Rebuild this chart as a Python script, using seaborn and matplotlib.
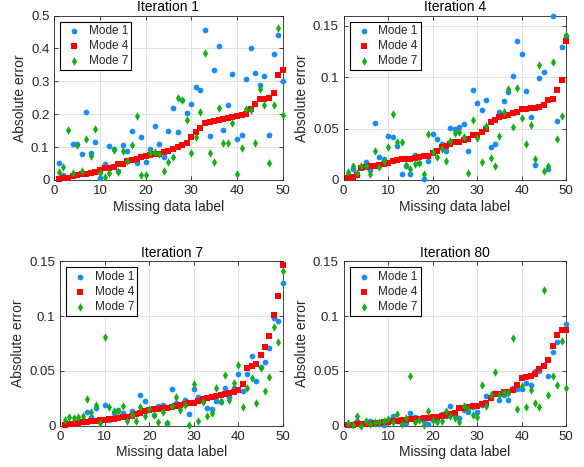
import numpy as np
import pandas as pd
import matplotlib
matplotlib.use("Agg")
import matplotlib.pyplot as plt
import seaborn as sns
from matplotlib.ticker import FuncFormatter

# -----------------------------
# Data
# -----------------------------
labels = list(range(1, 51))

it1_mode1 = [0.052, 0.015, 0.010, 0.108, 0.110, 0.078, 0.207, 0.081, 0.116, 0.007,
             0.050, 0.103, 0.094, 0.028, 0.105, 0.089, 0.148, 0.053, 0.132, 0.054,
             0.093, 0.163, 0.108, 0.071, 0.150, 0.220, 0.146, 0.243, 0.204, 0.232,
             0.283, 0.273, 0.457, 0.133, 0.334, 0.407, 0.151, 0.228, 0.321, 0.125,
             0.138, 0.308, 0.400, 0.325, 0.288, 0.316, 0.138, 0.383, 0.442, 0.300]
it1_mode4 = [0.003, 0.005, 0.006, 0.012, 0.015, 0.017, 0.018, 0.022, 0.025, 0.030,
             0.035, 0.037, 0.040, 0.048, 0.050, 0.058, 0.060, 0.065, 0.070, 0.073,
             0.076, 0.078, 0.080, 0.085, 0.088, 0.095, 0.100, 0.105, 0.113, 0.132,
             0.145, 0.157, 0.172, 0.177, 0.180, 0.183, 0.185, 0.188, 0.192, 0.195,
             0.198, 0.200, 0.215, 0.230, 0.245, 0.246, 0.250, 0.265, 0.318, 0.335]
it1_mode7 = [0.024, 0.040, 0.153, 0.021, 0.105, 0.027, 0.125, 0.073, 0.155, 0.021,
             0.009, 0.022, 0.090, 0.024, 0.089, 0.058, 0.105, 0.196, 0.016, 0.015,
             0.081, 0.084, 0.079, 0.027, 0.055, 0.071, 0.248, 0.244, 0.181, 0.081,
             0.132, 0.207, 0.386, 0.083, 0.056, 0.219, 0.111, 0.111, 0.173, 0.017,
             0.096, 0.217, 0.212, 0.111, 0.277, 0.229, 0.053, 0.229, 0.463, 0.198]

it4_mode1 = [0.005, 0.011, 0.005, 0.013, 0.0175, 0.010, 0.0557, 0.022, 0.0207, 0.0424,
             0.0418, 0.0334, 0.0058, 0.0136, 0.0058, 0.0246, 0.017, 0.0006, 0.0185, 0.0444,
             0.0399, 0.0353, 0.0282, 0.0509, 0.0492, 0.0512, 0.0548, 0.0282, 0.0872, 0.0748,
             0.068, 0.078, 0.0318, 0.0353, 0.0664, 0.0768, 0.0852, 0.1014, 0.135, 0.123,
             0.0868, 0.0612, 0.0143, 0.0988, 0.105, 0.0104, 0.160, 0.057, 0.129, 0.140]
it4_mode4 = [0.0023, 0.003, 0.005, 0.012, 0.013, 0.0135, 0.0135, 0.015, 0.016, 0.017,
             0.018, 0.019, 0.020, 0.020, 0.0205, 0.021, 0.022, 0.023, 0.0237, 0.026,
             0.028, 0.032, 0.0335, 0.035, 0.0366, 0.0366, 0.039, 0.040, 0.044, 0.044,
             0.047, 0.0496, 0.0567, 0.058, 0.061, 0.0625, 0.063, 0.065, 0.066, 0.0687,
             0.069, 0.0697, 0.0697, 0.0706, 0.0726, 0.0777, 0.079, 0.088, 0.097, 0.135]
it4_mode7 = [0.008, 0.014, 0.0065, 0.0133, 0.0133, 0.006, 0.028, 0.013, 0.018, 0.0324,
             0.0645, 0.0366, 0.0366, 0.015, 0.011, 0.016, 0.017, 0.0055, 0.0444, 0.027,
             0.022, 0.030, 0.0188, 0.0376, 0.0457, 0.047, 0.042, 0.0065, 0.0583, 0.0405,
             0.0175, 0.0528, 0.021, 0.0136, 0.043, 0.0664, 0.089, 0.0512, 0.0897, 0.0606,
             0.035, 0.0538, 0.0204, 0.112, 0.0084, 0.014, 0.1144, 0.0395, 0.0625, 0.141]

it7_mode1 = [0.001, 0.0025, 0.003, 0.0037, 0.0055, 0.0128, 0.0076, 0.016, 0.004, 0.019,
             0.0055, 0.0116, 0.0147, 0.012, 0.0067, 0.0137, 0.0104, 0.028, 0.0223, 0.0156,
             0.0098, 0.0183, 0.0186, 0.0024, 0.0339, 0.0208, 0.018, 0.0232, 0.0107, 0.0333,
             0.0263, 0.023, 0.0159, 0.0153, 0.023, 0.022, 0.034, 0.026, 0.034, 0.047,
             0.032, 0.047, 0.064, 0.041, 0.054, 0.058, 0.0705, 0.098, 0.096, 0.130]
it7_mode4 = [0.001, 0.0015, 0.002, 0.0025, 0.003, 0.0035, 0.004, 0.0045, 0.005, 0.0055,
             0.006, 0.0065, 0.007, 0.0075, 0.008, 0.009, 0.011, 0.012, 0.013, 0.014,
             0.015, 0.015, 0.016, 0.0165, 0.017, 0.018, 0.019, 0.020, 0.021, 0.021,
             0.023, 0.024, 0.025, 0.026, 0.027, 0.028, 0.029, 0.030, 0.031, 0.033,
             0.038, 0.0525, 0.0547, 0.0565, 0.0647, 0.072, 0.082, 0.101, 0.1185, 0.147]
it7_mode7 = [0.005, 0.008, 0.0073, 0.0076, 0.0085, 0.0244, 0.0125, 0.019, 0.0024, 0.081,
             0.0168, 0.0137, 0.0134, 0.0183, 0.004, 0.010, 0.0046, 0.0168, 0.0085, 0.0156,
             0.0098, 0.0034, 0.0125, 0.0024, 0.0177, 0.0263, 0.0147, 0.019, 0.001, 0.0385,
             0.0043, 0.0214, 0.0085, 0.0116, 0.0345, 0.0223, 0.046, 0.0238, 0.0394, 0.0553,
             0.0171, 0.0345, 0.0437, 0.0205, 0.0525, 0.0315, 0.0449, 0.090, 0.0767, 0.1414]

it80_mode1 = [0.001, 0.002, 0.0046, 0.001, 0.003, 0.0046, 0.002, 0.002, 0.0003, 0.0055,
              0.0092, 0.004, 0.0015, 0.0025, 0.0113, 0.008, 0.0073, 0.004, 0.002, 0.0055,
              0.0064, 0.0107, 0.009, 0.018, 0.010, 0.0067, 0.0147, 0.0125, 0.017, 0.0128,
              0.0192, 0.0275, 0.025, 0.0296, 0.0238, 0.0284, 0.0238, 0.0345, 0.0336, 0.0336,
              0.039, 0.0373, 0.050, 0.050, 0.0556, 0.0452, 0.0672, 0.0767, 0.087, 0.0925]
it80_mode4 = [0.0006, 0.001, 0.0012, 0.0013, 0.0015, 0.002, 0.0022, 0.0025, 0.003, 0.0035,
              0.004, 0.0045, 0.005, 0.0055, 0.006, 0.0062, 0.0065, 0.007, 0.0072, 0.0076,
              0.008, 0.0085, 0.0098, 0.011, 0.012, 0.016, 0.0162, 0.017, 0.0177, 0.018,
              0.0195, 0.021, 0.0253, 0.0285, 0.029, 0.0305, 0.031, 0.033, 0.0367, 0.0434,
              0.0446, 0.045, 0.047, 0.0513, 0.0544, 0.060, 0.0727, 0.0828, 0.087, 0.0877]
it80_mode7 = [0.0025, 0.0002, 0.0089, 0.0001, 0.0046, 0.002, 0.0037, 0.0037, 0.004, 0.0064,
              0.003, 0.0107, 0.0012, 0.0067, 0.0452, 0.003, 0.0055, 0.0002, 0.0137, 0.0055,
              0.0034, 0.004, 0.013, 0.0085, 0.007, 0.0037, 0.0183, 0.0156, 0.0095, 0.0076,
              0.0367, 0.0183, 0.0278, 0.0492, 0.0284, 0.0305, 0.030, 0.0797, 0.0156, 0.036,
              0.0171, 0.033, 0.0208, 0.0171, 0.1237, 0.0284, 0.0452, 0.037, 0.0773, 0.0342]

titles = ["Iteration 1", "Iteration 4", "Iteration 7", "Iteration 80"]
modes = ["Mode 1", "Mode 4", "Mode 7"]
panels = [
    (it1_mode1, it1_mode4, it1_mode7),
    (it4_mode1, it4_mode4, it4_mode7),
    (it7_mode1, it7_mode4, it7_mode7),
    (it80_mode1, it80_mode4, it80_mode7),
]
ylims = [(0, 0.5), (0, 0.16), (0, 0.15), (0, 0.15)]
yticks = [[0, 0.1, 0.2, 0.3, 0.4, 0.5], [0, 0.05, 0.1, 0.15],
          [0, 0.05, 0.1, 0.15], [0, 0.05, 0.1, 0.15]]

# -----------------------------
# Style (MATLAB-like)
# -----------------------------
sns.set_style("ticks")
plt.rcParams['font.family'] = ['Liberation Sans', 'DejaVu Sans']
gray = "#262626"
palette = {"Mode 1": "#1a8cff", "Mode 4": "#ff0000", "Mode 7": "#12b012"}
markers = {"Mode 1": "o", "Mode 4": "s", "Mode 7": "d"}
sizes = {"Mode 1": 17, "Mode 4": 22, "Mode 7": 19}

fig = plt.figure(figsize=(5.84, 4.67), dpi=100)
positions = [
    [0.093, 0.6146, 0.391, 0.352],
    [0.5885, 0.6146, 0.381, 0.352],
    [0.1033, 0.0884, 0.381, 0.352],
    [0.5885, 0.0884, 0.381, 0.352],
]

for k in range(4):
    ax = fig.add_axes(positions[k])
    for mode, vals in zip(modes, panels[k]):
        df = pd.DataFrame({"label": labels, "err": vals, "Mode": mode})
        sns.scatterplot(
            data=df, x="label", y="err",
            color=palette[mode], marker=markers[mode], s=sizes[mode],
            linewidth=0, label=mode, ax=ax, zorder=3, clip_on=False
        )
    ax.set_xlim(0, 50)
    ax.set_ylim(*ylims[k])
    ax.set_xticks([0, 10, 20, 30, 40, 50])
    ax.set_yticks(yticks[k])
    ax.yaxis.set_major_formatter(FuncFormatter(lambda v, p: "%g" % round(v, 4)))
    ax.grid(True, color="#dcdcdc", linewidth=0.6)
    ax.set_axisbelow(True)
    ax.tick_params(direction="in", length=3, width=0.6, colors=gray,
                   labelsize=9.5, top=True, right=True, labelcolor=gray)
    for sp in ax.spines.values():
        sp.set_visible(True)
        sp.set_color(gray)
        sp.set_linewidth(0.6)
    ax.set_title(titles[k], fontsize=10, color="black", pad=3)
    ax.set_xlabel("Missing data label", fontsize=10, color=gray, labelpad=2)
    ax.set_ylabel("Absolute error", fontsize=10, color=gray, labelpad=3)
    leg = ax.legend(loc="upper left", fontsize=8.5, frameon=True, fancybox=False,
                    framealpha=1, edgecolor="black", handletextpad=0.3,
                    borderpad=0.3, labelspacing=0.25, handlelength=1.8,
                    borderaxespad=0.5, markerscale=1.0)
    leg.get_frame().set_linewidth(0.8)

fig.savefig("out.png", dpi=100)
